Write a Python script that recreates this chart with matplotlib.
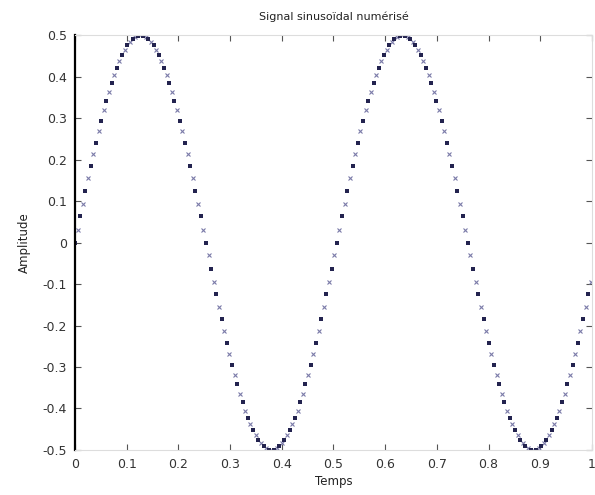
import numpy as np
import matplotlib.pyplot as plt

# Signal sinusoïdal échantillonné (amplitude 0.5, un peu moins de 2 périodes par seconde)
# échantillons pairs et impairs, décalés d'une demi-période d'échantillonnage
Te = 0.01013

ech_pairs = [
    0.000, 0.063, 0.124, 0.184, 0.241, 0.294, 0.342, 0.385, 0.422, 0.452,
    0.476, 0.491, 0.499, 0.499, 0.491, 0.476, 0.452, 0.422, 0.385, 0.342,
    0.294, 0.241, 0.184, 0.124, 0.063, 0.000, -0.063, -0.124, -0.184, -0.241,
    -0.294, -0.342, -0.385, -0.422, -0.452, -0.476, -0.491, -0.499, -0.499, -0.491,
    -0.476, -0.452, -0.422, -0.385, -0.342, -0.294, -0.241, -0.184, -0.124, -0.063,
    0.000, 0.063, 0.124, 0.184, 0.241, 0.294, 0.342, 0.385, 0.422, 0.452,
    0.476, 0.491, 0.499, 0.499, 0.491, 0.476, 0.452, 0.422, 0.385, 0.342,
    0.294, 0.241, 0.184, 0.124, 0.063, 0.000, -0.063, -0.124, -0.184, -0.241,
    -0.294, -0.342, -0.385, -0.422, -0.452, -0.476, -0.491, -0.499, -0.499, -0.491,
    -0.476, -0.452, -0.422, -0.385, -0.342, -0.294, -0.241, -0.184, -0.124, -0.063,
    0.000,
]

ech_impairs = [
    0.031, 0.094, 0.155, 0.213, 0.268, 0.319, 0.364, 0.405, 0.438, 0.465,
    0.484, 0.496, 0.500, 0.496, 0.484, 0.465, 0.438, 0.405, 0.364, 0.319,
    0.268, 0.213, 0.155, 0.094, 0.031, -0.031, -0.094, -0.155, -0.213, -0.268,
    -0.319, -0.364, -0.405, -0.438, -0.465, -0.484, -0.496, -0.500, -0.496, -0.484,
    -0.465, -0.438, -0.405, -0.364, -0.319, -0.268, -0.213, -0.155, -0.094, -0.031,
    0.031, 0.094, 0.155, 0.213, 0.268, 0.319, 0.364, 0.405, 0.438, 0.465,
    0.484, 0.496, 0.500, 0.496, 0.484, 0.465, 0.438, 0.405, 0.364, 0.319,
    0.268, 0.213, 0.155, 0.094, 0.031, -0.031, -0.094, -0.155, -0.213, -0.268,
    -0.319, -0.364, -0.405, -0.438, -0.465, -0.484, -0.496, -0.500, -0.496, -0.484,
    -0.465, -0.438, -0.405, -0.364, -0.319, -0.268, -0.213, -0.155, -0.094, -0.031,
]

xticks = [0, 0.1, 0.2, 0.3, 0.4, 0.5, 0.6, 0.7, 0.8, 0.9, 1]
xlabels = ["0", "0.1", "0.2", "0.3", "0.4", "0.5", "0.6", "0.7", "0.8", "0.9", "1"]
yticks = [-0.5, -0.4, -0.3, -0.2, -0.1, 0, 0.1, 0.2, 0.3, 0.4, 0.5]
ylabels = ["-0.5", "-0.4", "-0.3", "-0.2", "-0.1", "0", "0.1", "0.2", "0.3", "0.4", "0.5"]

t_pairs = np.arange(len(ech_pairs)) * Te
t_impairs = np.arange(len(ech_impairs)) * Te + Te / 2

fig = plt.figure(figsize=(5.95, 4.95), dpi=100)
ax = fig.add_axes([0.126, 0.091, 0.869, 0.838])

ax.plot(t_impairs, ech_impairs, linestyle='none', marker='x', markersize=3.5,
        markeredgewidth=0.8, color='#7a7aa8')
ax.plot(t_pairs, ech_pairs, linestyle='none', marker='s', markersize=2.6,
        markeredgewidth=0, color='#23234f')

ax.set_xlim(0, 1)
ax.set_ylim(-0.5, 0.5)
ax.set_xticks(xticks)
ax.set_xticklabels(xlabels)
ax.set_yticks(yticks)
ax.set_yticklabels(ylabels)
ax.tick_params(direction='in', length=4, width=0.8, labelsize=9,
               top=True, right=True, colors='#555555', labelcolor='#333333')
ax.tick_params(axis='x', pad=6)
ax.tick_params(axis='y', pad=6)

for cote in ['top', 'right', 'bottom']:
    ax.spines[cote].set_color('#dddddd')
    ax.spines[cote].set_linewidth(0.8)
ax.spines['left'].set_color('black')
ax.spines['left'].set_linewidth(1.6)

ax.set_title("Signal sinusoïdal numérisé", fontsize=8, pad=11, color='#222222')
ax.set_xlabel("Temps", fontsize=8.5, labelpad=3, color='#222222')
ax.set_ylabel("Amplitude", fontsize=8.5, labelpad=8, color='#222222')

fig.savefig("out.png", dpi=100)
